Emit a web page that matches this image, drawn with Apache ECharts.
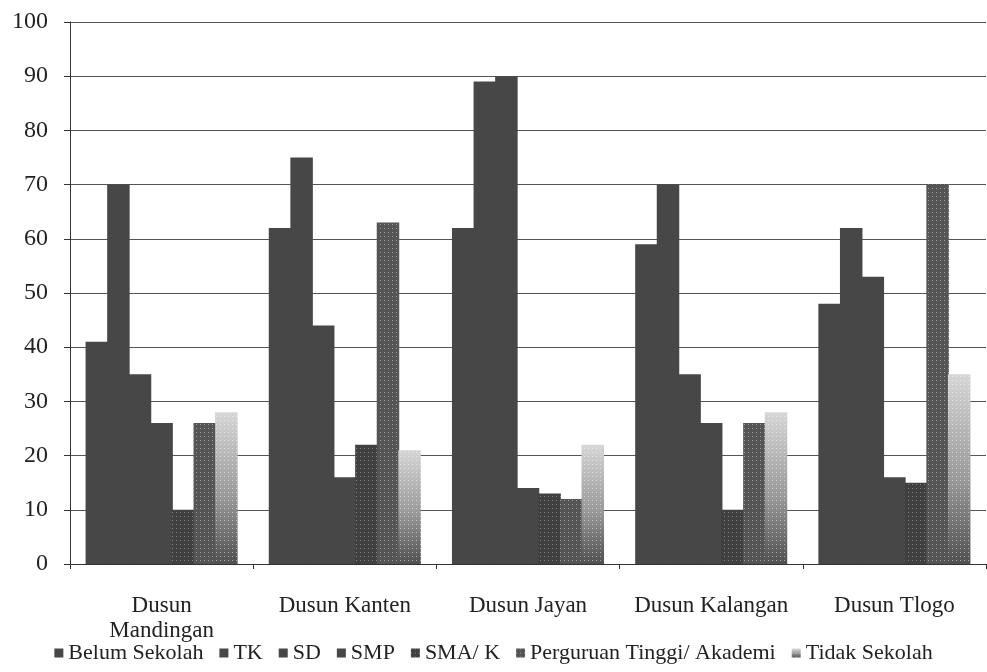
<!DOCTYPE html>
<html>
<head>
<meta charset="utf-8">
<script src="https://cdn.jsdelivr.net/npm/echarts@6/dist/echarts.min.js"></script>
<style>
  html, body { margin: 0; padding: 0; background: #ffffff; }
  #chart { width: 987px; height: 672px; }
</style>
</head>
<body>
<div id="chart"></div>
<script>
// Hamlets (dusun) along the x axis
const categories = ['Dusun\nMandingan', 'Dusun Kanten', 'Dusun Jayan', 'Dusun Kalangan', 'Dusun Tlogo'];

// Education level series, one value per hamlet
const belumSekolah    = [41, 62, 62, 59, 48];
const tk              = [70, 75, 89, 70, 62];
const sd              = [35, 44, 90, 35, 53];
const smp             = [26, 16, 14, 26, 16];
const smaK            = [10, 22, 13, 10, 15];
const perguruanTinggi = [26, 63, 12, 26, 70];
const tidakSekolah    = [28, 21, 22, 28, 35];

const seriesNames = ['Belum Sekolah', 'TK', 'SD', 'SMP', 'SMA/ K', 'Perguruan Tinggi/ Akademi', 'Tidak Sekolah'];
const seriesData = [belumSekolah, tk, sd, smp, smaK, perguruanTinggi, tidakSekolah];

const yTicks = [0, 10, 20, 30, 40, 50, 60, 70, 80, 90, 100];

const font = '"Liberation Serif", "DejaVu Serif", serif';
const solid = '#474747';

// Speckled fills for the lighter-toned levels
const speckle = (c) => ({ symbol: 'rect', symbolSize: 1, dashArrayX: [1, 3], dashArrayY: [1, 3], rotation: 0, color: c });

const fadeFill = {
  type: 'linear', x: 0, y: 0, x2: 0, y2: 1,
  colorStops: [{ offset: 0, color: '#d6d6d6' }, { offset: 0.55, color: '#9a9a9a' }, { offset: 1, color: '#505050' }]
};

const styles = [
  { color: solid },
  { color: solid },
  { color: solid },
  { color: solid },
  { color: '#404040', decal: speckle('rgba(255,255,255,0.35)') },
  { color: '#555555', decal: speckle('rgba(255,255,255,0.45)') },
  { color: fadeFill, decal: speckle('rgba(255,255,255,0.5)') }
];

const chart = echarts.init(document.getElementById('chart'), null, { renderer: 'canvas' });

chart.setOption({
  backgroundColor: '#ffffff',
  animation: false,
  aria: { enabled: false },
  textStyle: { fontFamily: font },
  grid: { left: 70, right: 1, top: 22, bottom: 108, containLabel: false },
  legend: {
    bottom: 3,
    left: 'center',
    itemWidth: 9,
    itemHeight: 9,
    itemGap: 16,
    icon: 'rect',
    textStyle: { fontFamily: font, fontSize: 22, color: '#222' },
    data: seriesNames
  },
  xAxis: {
    type: 'category',
    data: categories,
    axisLine: { show: true, lineStyle: { color: '#333', width: 1 } },
    axisTick: { show: true, length: 5, lineStyle: { color: '#333' } },
    axisLabel: { fontFamily: font, fontSize: 23, color: '#222', margin: 29, lineHeight: 25, interval: 0 }
  },
  yAxis: {
    type: 'value',
    min: yTicks[0],
    max: yTicks[yTicks.length - 1],
    interval: yTicks[1] - yTicks[0],
    axisLine: { show: true, lineStyle: { color: '#333', width: 1 } },
    axisTick: { show: true, length: 6, lineStyle: { color: '#333' } },
    axisLabel: { fontFamily: font, fontSize: 24, color: '#222', margin: 22 },
    splitLine: { show: true, lineStyle: { color: '#555', width: 1 } }
  },
  series: seriesNames.map((name, i) => ({
    name,
    type: 'bar',
    data: seriesData[i],
    barGap: '-4%',
    barCategoryGap: '17%',
    itemStyle: styles[i]
  }))
});
</script>
</body>
</html>
